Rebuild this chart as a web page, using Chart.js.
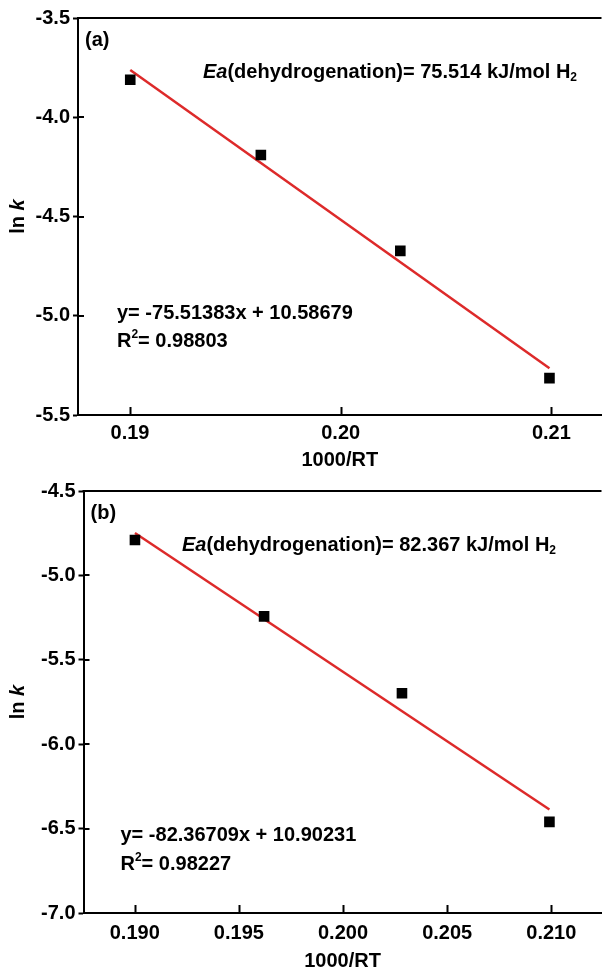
<!DOCTYPE html>
<html>
<head>
<meta charset="utf-8">
<title>ln k vs 1000/RT</title>
<script src="https://cdn.jsdelivr.net/npm/chart.js@4.4.1/dist/chart.umd.min.js"></script>
<style>
    html, body { margin: 0; padding: 0; background: #fff; overflow: hidden; }
    #wrap { position: relative; width: 609px; height: 974px; }
    #wrap canvas { position: absolute; left: 0; }
    #chartA { top: 0; }
    #chartB { top: 476px; }
</style>
</head>
<body>
<div id="wrap">
    <canvas id="chartA" width="609" height="476"></canvas>
    <canvas id="chartB" width="609" height="498"></canvas>
</div>
<script>
    "use strict";

    // 1000/RT values (T = 633, 613, 593, 573 K)
    var invRT = [0.19001, 0.19621, 0.20283, 0.20991];

    // ln k, panel (a) and (b)
    var lnkA = [-3.811, -4.190, -4.673, -5.314];
    var lnkB = [-4.790, -5.243, -5.698, -6.460];

    // linear fit end points (at first and last 1000/RT)
    var fitA = [-3.762, -5.264];
    var fitB = [-4.749, -6.387];

    // tick labels
    var xTicksA = [0.19, 0.20, 0.21];
    var xTicksB = [0.190, 0.195, 0.200, 0.205, 0.210];
    var yTicksA = [-3.5, -4.0, -4.5, -5.0, -5.5];
    var yTicksB = [-4.5, -5.0, -5.5, -6.0, -6.5, -7.0];

    var FONT = '"Liberation Sans", Arial, Helvetica, sans-serif';
    var RED = "#dd2a2a";

    // draw text made of parts: {t, italic, sup, sub}
    function richWidth(ctx, parts, size) {
        var w = 0;
        parts.forEach(function (p) {
            var s = (p.sup || p.sub) ? Math.round(size * 0.62) : size;
            ctx.font = (p.italic ? "italic " : "") + "bold " + s + "px " + FONT;
            w += ctx.measureText(p.t).width;
        });
        return w;
    }

    function richText(ctx, x, y, parts, size) {
        parts.forEach(function (p) {
            var s = (p.sup || p.sub) ? Math.round(size * 0.62) : size;
            ctx.font = (p.italic ? "italic " : "") + "bold " + s + "px " + FONT;
            var dy = p.sup ? -size * 0.32 : (p.sub ? size * 0.3 : 0);
            ctx.fillText(p.t, x, y + dy);
            x += ctx.measureText(p.t).width;
        });
    }

    // Frame, inward ticks, y title and notes
    var framePlugin = {
        id: "frame",
        afterDraw: function (chart, args, opts) {
            var ctx = chart.ctx;
            var a = chart.chartArea;
            var xs = chart.scales.x, ys = chart.scales.y;
            ctx.save();
            ctx.strokeStyle = "#000";
            ctx.lineWidth = 2;
            ctx.beginPath();
            ctx.moveTo(a.left - 1, a.top);
            ctx.lineTo(a.right, a.top);
            opts.xTicks.forEach(function (v) {
                var px = Math.round(xs.getPixelForValue(v)) + 0.5;
                ctx.moveTo(px, a.bottom);
                ctx.lineTo(px, a.bottom - 8);
            });
            opts.yTicks.forEach(function (v) {
                var py = Math.round(ys.getPixelForValue(v));
                ctx.moveTo(a.left, py);
                ctx.lineTo(a.left + 6, py);
            });
            ctx.stroke();

            ctx.fillStyle = "#000";
            ctx.textBaseline = "middle";
            ctx.textAlign = "left";

            // y axis title
            var yt = [{t: "ln "}, {t: "k", italic: true}];
            ctx.save();
            ctx.translate(18, (a.top + a.bottom) / 2);
            ctx.rotate(-Math.PI / 2);
            richText(ctx, -richWidth(ctx, yt, 20) / 2, 0, yt, 20);
            ctx.restore();

            opts.notes.forEach(function (n) {
                richText(ctx, a.left + n.dx, a.top + n.dy, n.parts, 20);
            });
            ctx.restore();
        }
    };

    function makePanel(id, p) {
        var ctx = document.getElementById(id).getContext("2d");
        return new Chart(ctx, {
            type: "scatter",
            data: {
                datasets: [{
                    data: p.lnk.map(function (v, i) { return {x: invRT[i], y: v}; }),
                    backgroundColor: "#000",
                    borderColor: "#000",
                    pointStyle: "rect",
                    pointRadius: 7.5,
                    pointBorderWidth: 0,
                    showLine: false
                },
                {
                    data: [{x: invRT[0], y: p.fit[0]}, {x: invRT[invRT.length - 1], y: p.fit[1]}],
                    borderColor: RED,
                    borderWidth: 2.5,
                    pointRadius: 0,
                    showLine: true
                }]
            },
            options: {
                responsive: false,
                animation: false,
                layout: {padding: {top: p.top, left: 0, right: 0, bottom: 0}},
                plugins: {
                    legend: {display: false},
                    tooltip: {enabled: false},
                    frame: {xTicks: p.xTicks, yTicks: p.yTicks, notes: p.notes}
                },
                scales: {
                    x: {
                        type: "linear",
                        min: p.xMin,
                        max: p.xMax,
                        afterBuildTicks: function (s) {
                            s.ticks = p.xTicks.map(function (v) { return {value: v}; });
                        },
                        afterFit: function (s) { s.height = 61; },
                        grid: {display: true, drawOnChartArea: false, drawTicks: false},
                        border: {display: true, color: "#000", width: 2},
                        ticks: {
                            color: "#000",
                            padding: p.xPad,
                            maxRotation: 0,
                            autoSkip: false,
                            font: {family: FONT, size: 20, weight: "bold"},
                            callback: function (v) { return v.toFixed(p.xDec); }
                        },
                        title: {
                            display: true,
                            text: "1000/RT",
                            color: "#000",
                            padding: {top: 0, bottom: p.titlePad},
                            font: {family: FONT, size: 20, weight: "bold"}
                        }
                    },
                    y: {
                        min: p.yTicks[p.yTicks.length - 1],
                        max: p.yTicks[0],
                        afterBuildTicks: function (s) {
                            s.ticks = p.yTicks.map(function (v) { return {value: v}; });
                        },
                        afterFit: function (s) { s.width = p.yWidth; },
                        grid: {display: true, drawOnChartArea: false, drawTicks: true, tickLength: 5, tickWidth: 2, color: "#000"},
                        border: {display: true, color: "#000", width: 2},
                        ticks: {
                            color: "#000",
                            padding: 3,
                            autoSkip: false,
                            font: {family: FONT, size: 20, weight: "bold"},
                            callback: function (v) { return v.toFixed(1); }
                        }
                    }
                }
            },
            plugins: [framePlugin]
        });
    }

    // (a)
    makePanel("chartA", {
        lnk: lnkA, fit: fitA,
        xTicks: xTicksA, yTicks: yTicksA, xDec: 2,
        xMin: 0.18753, xMax: 0.21238,
        top: 18, yWidth: 78, xPad: 6, titlePad: 4,
        notes: [
            {dx: 7, dy: 22, parts: [{t: "(a)"}]},
            {dx: 125, dy: 54, parts: [{t: "Ea", italic: true}, {t: "(dehydrogenation)= 75.514 kJ/mol H"}, {t: "2", sub: true}]},
            {dx: 39, dy: 295, parts: [{t: "y= -75.51383x + 10.58679"}]},
            {dx: 39, dy: 323, parts: [{t: "R"}, {t: "2", sup: true}, {t: "= 0.98803"}]}
        ]
    });

    // (b)
    makePanel("chartB", {
        lnk: lnkB, fit: fitB,
        xTicks: xTicksB, yTicks: yTicksB, xDec: 3,
        xMin: 0.18754, xMax: 0.21241,
        top: 12, yWidth: 83.5, xPad: 8, titlePad: 1,
        notes: [
            {dx: 7, dy: 22, parts: [{t: "(b)"}]},
            {dx: 98.5, dy: 54, parts: [{t: "Ea", italic: true}, {t: "(dehydrogenation)= 82.367 kJ/mol H"}, {t: "2", sub: true}]},
            {dx: 37, dy: 344, parts: [{t: "y= -82.36709x + 10.90231"}]},
            {dx: 37, dy: 373, parts: [{t: "R"}, {t: "2", sup: true}, {t: "= 0.98227"}]}
        ]
    });
</script>
</body>
</html>
